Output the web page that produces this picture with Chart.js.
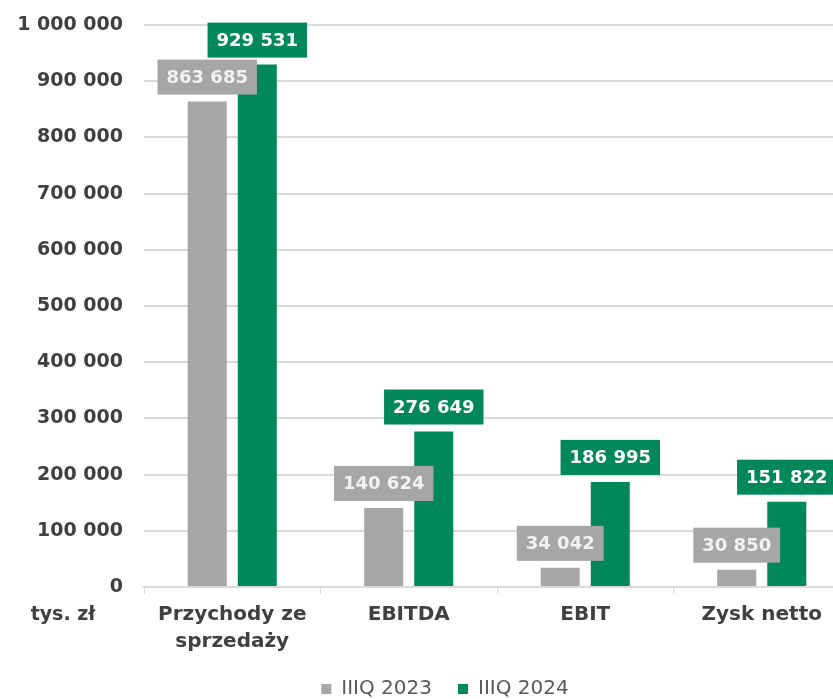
<!DOCTYPE html>
<html><head><meta charset="utf-8">
<script src="https://cdn.jsdelivr.net/npm/chart.js@4"></script>
<style>
html,body{margin:0;padding:0;overflow:hidden;background:#fff;width:833px;height:699px}
#wrap{position:relative;width:850px;height:699px}
</style></head><body>
<div id="wrap"><canvas id="c" width="850" height="699"></canvas></div>
<script>
const categories = [['Przychody ze','sprzedaży'], 'EBITDA', 'EBIT', 'Zysk netto'];
const seriesNames = ['IIIQ 2023', 'IIIQ 2024'];
const values2023 = [863685, 140624, 34042, 30850];
const values2024 = [929531, 276649, 186995, 151822];
const unitLabel = 'tys. zł';

const GRAY = '#a6a6a6', GREEN = '#00885a';
const FONT = "'DejaVu Sans', sans-serif";
const fmt = v => String(v).replace(/\B(?=(\d{3})+(?!\d))/g, ' ');

const labelPlugin = {
  id: 'valueLabels',
  afterDatasetsDraw(chart) {
    const ctx = chart.ctx;
    ctx.save();
    ctx.font = "bold 18px " + FONT;
    ctx.textAlign = 'center';
    ctx.textBaseline = 'middle';
    chart.data.datasets.forEach((ds, di) => {
      const meta = chart.getDatasetMeta(di);
      meta.data.forEach((el, i) => {
        const txt = fmt(ds.data[i]);
        const w = ctx.measureText(txt).width + 18;
        const h = 35;
        const bottom = el.y - 7;
        ctx.fillStyle = ds.backgroundColor;
        ctx.fillRect(el.x - w / 2, bottom - h, w, h);
        ctx.fillStyle = di === 0 ? '#f2f2f2' : '#ffffff';
        ctx.fillText(txt, el.x, bottom - h / 2 + 1);
      });
    });
    ctx.font = "bold 19px " + FONT;
    ctx.fillStyle = '#404040';
    ctx.textAlign = 'center';
    ctx.fillText(unitLabel, 63, 615);
    ctx.restore();
  },
  afterLayout(chart) {
    if (chart.legend) {
      chart.legend.left += 20; chart.legend.right += 20;
    }
  }
};

new Chart(document.getElementById('c'), {
  type: 'bar',
  data: {
    labels: categories,
    datasets: [
      { label: seriesNames[0], data: values2023, backgroundColor: GRAY, categoryPercentage: 0.567, barPercentage: 0.78 },
      { label: seriesNames[1], data: values2024, backgroundColor: GREEN, categoryPercentage: 0.567, barPercentage: 0.78 }
    ]
  },
  options: {
    responsive: false,
    animation: false,
    layout: { padding: { left: 0, right: 0, top: 25, bottom: -10 } },
    plugins: {
      tooltip: { enabled: false },
      legend: {
        position: 'bottom',
        labels: {
          boxWidth: 10, boxHeight: 10, padding: 26,
          color: '#595959',
          font: { family: FONT, size: 20 }
        }
      }
    },
    scales: {
      x: {
        grid: { offset: true, drawOnChartArea: false, drawTicks: true, tickLength: 7, color: '#d9d9d9' },
        border: { color: '#d9d9d9', width: 2 },
        ticks: { color: '#404040', padding: 7, font: { family: FONT, size: 20, weight: 'bold', lineHeight: 1.35 }, maxRotation: 0 },
        afterFit(a) { a.height = 66; }
      },
      y: {
        min: 0, max: 1000000,
        grid: { color: '#d9d9d9', lineWidth: 2, drawTicks: false },
        border: { display: false },
        ticks: { stepSize: 100000, padding: 21, color: '#404040', font: { family: FONT, size: 19, weight: 'bold' }, callback: v => fmt(v) },
        afterFit(a) { a.width = 144; a.paddingTop = 0; }
      }
    }
  },
  plugins: [labelPlugin]
});
</script>
</body></html>
